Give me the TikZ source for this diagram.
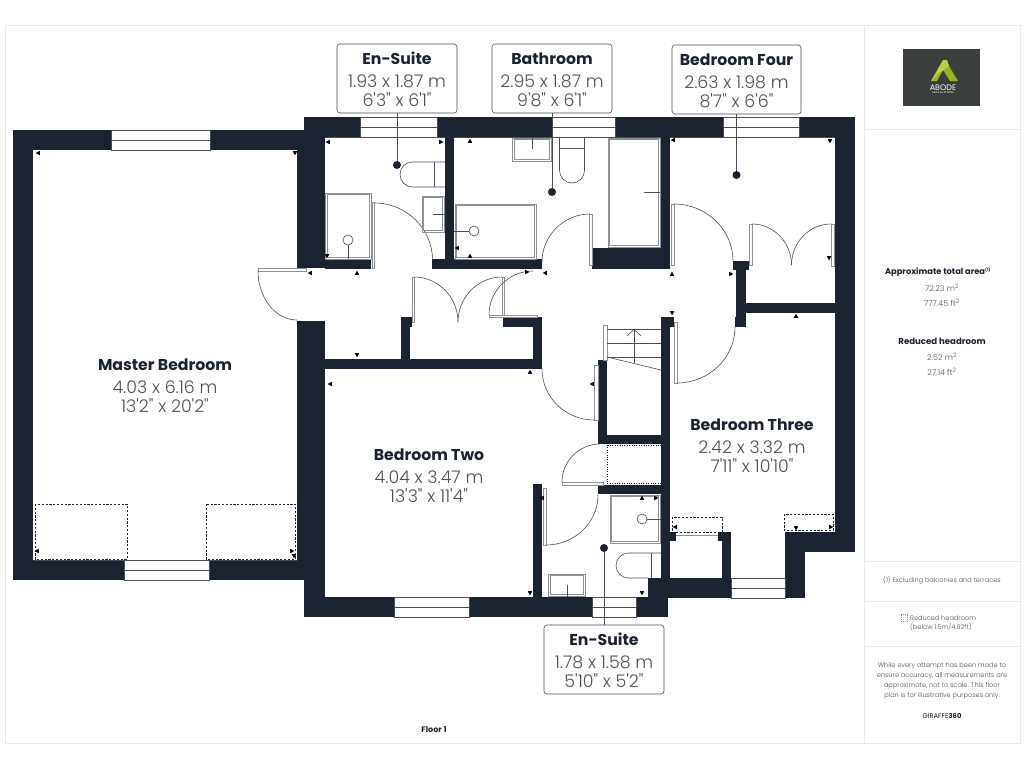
\documentclass[tikz,border=0pt]{standalone}
\usepackage{fontspec}
\newfontfamily\pop{Poppins}
\newfontfamily\popl{Poppins Light}
\definecolor{wallc}{HTML}{1B2230}
\definecolor{linec}{HTML}{4A4F55}
\definecolor{dimc}{HTML}{4E5257}
\definecolor{framec}{HTML}{E8E8EE}
\definecolor{fixc}{HTML}{8E9296}
\definecolor{logoc}{HTML}{3A3F3E}
\definecolor{limea}{HTML}{96B428}
\definecolor{limeb}{HTML}{BECD46}
\newcommand{\wl}[4]{\fill[wallc] (#1,#2) rectangle (#3,#4);}
\newcommand{\winH}[4]{\draw[fline,fill=white] (#1,#2) rectangle (#3,#4); \draw[fline] (#1,{(#2+#4)/2}) -- (#3,{(#2+#4)/2});}
\newcommand{\darc}[4]{\draw[fline] (#1,#2) .. controls ({#1+.55*(#3-#1)},#2) and (#3,{#4-.55*(#4-#2)}) .. (#3,#4);}
\newcommand{\leaf}[4]{\draw[leafs] (#1,#2) rectangle (#3,#4);}
\newcommand{\dblrect}[4]{\draw[fixs] (#1,#2) rectangle (#3,#4); \draw[fixs] ({#1+1.8},{#2+1.8}) rectangle ({#3-1.8},{#4-1.8});}
\newcommand{\mk}[3]{\fill[black,shift={(#1,#2)},rotate=#3] (-2.2,1.8) -- (2.2,1.8) -- (0,-2.4) -- cycle;}
\newcommand{\rtxt}[3]{\rule{0pt}{14.5pt}\pop\bfseries\fontsize{15.7}{19}\selectfont\textcolor{wallc}{#1}\\[4pt]\popl\mdseries\fontsize{17.4}{19}\selectfont\textcolor{dimc}{#2}\\\popl\mdseries\fontsize{17.4}{19}\selectfont\textcolor{dimc}{#3}}
\tikzset{
 fline/.style={draw=linec,line width=.6pt},
 leafs/.style={draw=fixc,fill=white,line width=.6pt},
 fixs/.style={draw=fixc,line width=.7pt},
 dots/.style={draw=wallc,line width=1pt,dash pattern=on 2.2pt off 1.6pt},
 lbox/.style={draw=linec,line width=.6pt,fill=white,rounded corners=3pt,inner sep=0pt,align=center,font=\fontsize{16}{19}\selectfont},
 rlabel/.style={inner sep=0pt,align=center,font=\fontsize{16}{19}\selectfont},
 side/.style={inner sep=0pt,align=center,text=wallc},
 pinpt/.style={circle,fill=wallc,inner sep=0pt,minimum size=8pt},
 lead/.style={draw=linec,line width=.7pt},
 fr/.style={draw=framec,line width=.8pt}
}
\begin{document}
\begin{tikzpicture}[x=1pt,y=-1pt]
\useasboundingbox (0,0) rectangle (1024,768);
\fill[white] (0,0) rectangle (1024,768);
% frame
\draw[fr] (5,25) rectangle (1020,743);
\draw[fr] (864,25) -- (864,743);
\draw[fr] (864,129) -- (1020,129);
\draw[fr] (864,561) -- (1020,561);
\draw[fr] (864,601) -- (1020,601);
\draw[fr] (864,646) -- (1020,646);
% master bedroom walls
\wl{13}{130}{33}{580}
\wl{13}{130}{111}{150}
\wl{210}{130}{304}{150}
\wl{13}{560}{124}{580}
\wl{209}{560}{304}{580}
\wl{304}{117}{325}{268}
\wl{297}{130}{325}{268}
\wl{297}{321}{325}{560}
\wl{304}{560}{325}{617}
% top wall
\wl{304}{117}{360}{137}
\wl{437}{117}{552}{137}
\wl{615}{117}{723}{137}
\wl{799}{117}{855}{137}
\wl{835}{117}{855}{552}
% bathroom block
\wl{445}{137}{454}{269}
\wl{325}{259}{371}{269}
\wl{432}{259}{542}{269}
\wl{661}{137}{670}{269}
\wl{592}{248}{670}{269}
% bedroom four closet
\wl{733}{261}{749}{270}
\wl{736}{270}{746}{327}
\wl{735}{317}{746}{327}
\wl{746}{303}{835}{313}
% corridor closet
\wl{325}{359}{542}{369}
\wl{401}{317}{410}{359}
\wl{401}{317}{412}{327}
\wl{533}{317}{542}{369}
\wl{503}{317}{542}{327}
% centre
\wl{661}{317}{670}{578}
\wl{661}{317}{674}{327}
\wl{598}{360}{607}{444}
\wl{598}{435}{661}{444}
\wl{598}{485}{661}{494}
\wl{533}{484}{542}{597}
% south walls
\wl{305}{597}{394}{617}
\wl{469}{597}{592}{617}
\wl{636}{597}{668}{617}
\wl{648}{578}{668}{617}
\wl{661}{578}{731}{598}
\wl{722}{532}{731}{578}
\wl{670}{532}{676}{541}
\wl{718}{532}{731}{541}
\wl{785}{532}{835}{552}
\wl{785}{532}{805}{598}
% windows
\winH{111}{130}{210}{150}
\winH{124}{560}{209}{580}
\winH{360}{117}{437}{137}
\winH{552}{117}{615}{137}
\winH{723}{117}{799}{137}
\winH{394}{597}{469}{617}
\winH{592}{597}{636}{617}
\winH{731}{578}{785}{598}
\draw[fixs,line width=1.4pt] (676,535.5) -- (718,535.5);
% sight lines along windows
\draw[fline] (325,137) -- (445,137);
\draw[fline] (454,137) -- (661,137);
\draw[fline] (670,137) -- (835,137);
\draw[fline] (33,560) -- (297,560);
% doors
\leaf{258}{268.5}{306}{271}\darc{297}{320}{258}{271}
\leaf{372}{202}{374.5}{268}\darc{374.5}{203}{432.5}{260}
\leaf{589.5}{214}{592}{265}\darc{590}{214}{542}{262}
\leaf{671}{204}{674}{265}\darc{674}{204}{733}{261}
\leaf{749}{224}{752}{265}\darc{752}{224}{791.5}{265}
\leaf{831}{224}{834}{266}\darc{831}{224}{791.5}{265}
\leaf{412}{277}{414}{322}\darc{414}{277}{458}{322}
\leaf{502}{277}{504}{317}\darc{502}{277}{458}{322}
\leaf{489}{315}{537}{317}\darc{533}{271}{489}{315}
\leaf{594}{365}{598}{420}\darc{594}{420}{542}{369}
\leaf{674}{322}{677}{383}\darc{677}{383}{735}{327}
\leaf{562}{482}{603}{485}\darc{600}{444}{562}{482}
\leaf{543}{488}{546}{545}\darc{546}{545}{598}{495}
% en-suite fixtures
\draw[fline] (445,162) -- (412.5,162) arc[start angle=270,end angle=90,radius=12.5] -- (445,187);
\draw[fline] (434,162) -- (434,187);
\dblrect{422}{196}{444}{232}
\draw[fline] (433,214) -- (445,214);
\dblrect{325.5}{193}{371.5}{259}
\draw[fline] (348,240) circle[radius=5];
\draw[fline] (348,245) -- (348,259);
% bathroom fixtures
\dblrect{512.5}{138}{551.5}{161}
\draw[fline] (532,137) -- (532,149);
\draw[fline] (559.5,137) -- (559.5,170.5) arc[start angle=180,end angle=0,radius=12.5] -- (584.5,137);
\draw[fline] (559.5,148) -- (584.5,148);
\dblrect{455}{204}{536}{259}
\draw[fline] (474,231) circle[radius=5];
\draw[fline] (454,231) -- (469,231);
\dblrect{608}{138}{660}{247}
\draw[fline] (644,192) -- (660,192);
% stairs
\draw[leafs] (603.5,325) rectangle (607,360);
\draw[fline] (607,329) -- (661,329);
\draw[fline] (607,343) -- (661,343);
\draw[fline] (607,357) -- (661,357);
\draw[fline] (607,357) -- (661,370);
\draw[fline] (634,363) -- (634,329.5);
\draw[fline] (627,336) -- (634,329.5) -- (641,336);
% dashed areas
\draw[dots,line width=.6pt,dash pattern=on 1pt off 1.4pt] (607,445) rectangle (661,483);
\draw[dots] (35,504) rectangle (127,559);
\draw[dots] (206,504) rectangle (295,559);
\draw[dots] (672,517) rectangle (722,532);
\draw[dots] (784,514) rectangle (833,530);
% lower en-suite
\dblrect{610}{495}{660}{543}
\draw[fline] (642,519) circle[radius=5];
\draw[fline] (647,519) -- (661,519);
\draw[fline] (648,578) -- (628.5,578) arc[start angle=90,end angle=270,radius=12.5] -- (661,553);
\draw[fline] (651,553) -- (651,578);
\dblrect{548.5}{574}{585}{596.5}
\draw[fline] (567,585) -- (567,597);
% small marks
\mk{328}{142}{90}\mk{441}{142}{270}\mk{470}{141}{0}\mk{327}{256}{180}\mk{357}{273}{0}\mk{310}{273}{90}
\mk{457}{248}{90}\mk{470}{256}{0}\mk{527}{272}{270}\mk{545}{273}{90}
\mk{673}{140}{90}\mk{830}{141}{180}\mk{672}{274}{0}\mk{731}{274}{270}\mk{829}{258}{180}
\mk{796}{316}{0}\mk{672}{313}{180}\mk{357}{355}{180}\mk{330}{384}{90}\mk{530}{372}{0}
\mk{592}{384}{90}\mk{542}{498}{90}\mk{530}{593}{180}\mk{642}{593}{180}
\mk{642}{498}{0}\mk{656}{498}{270}\mk{675}{527}{90}\mk{796}{528}{180}\mk{831}{527}{270}
\mk{37}{551}{90}\mk{292}{551}{270}\mk{294}{556}{180}\mk{295}{153}{180}\mk{38}{153}{90}
% label boxes
\node[lbox,minimum width=120pt,minimum height=69pt] (bES) at (397,78.5) {\rtxt{En-Suite}{1.93 x 1.87 m}{6'3" x 6'1"}};
\node[lbox,minimum width=120pt,minimum height=69pt] (bBA) at (552,78.5) {\rtxt{Bathroom}{2.95 x 1.87 m}{9'8" x 6'1"}};
\node[lbox,minimum width=129pt,minimum height=69pt] (bBF) at (736.5,79.5) {\rtxt{Bedroom Four}{2.63 x 1.98 m}{8'7" x 6'6"}};
\node[lbox,minimum width=120pt,minimum height=69pt] (bEL) at (604,659.5) {\rtxt{En-Suite}{1.78 x 1.58 m}{5'10" x 5'2"}};
\node[pinpt] (pES) at (397,165) {};
\node[pinpt] (pBA) at (552,192) {};
\node[pinpt] (pBF) at (736.5,175) {};
\node[pinpt] (pEL) at (604,548) {};
\draw[lead] (bES.south) -- (pES);
\draw[lead] (bBA.south) -- (pBA);
\draw[lead] (bBF.south) -- (pBF);
\draw[lead] (bEL.north) -- (pEL);
% room labels
\node[rlabel] (rMB) at (165,384.5) {\rtxt{Master Bedroom}{4.03 x 6.16 m}{13'2" x 20'2"}};
\node[rlabel] (rB2) at (429,474.5) {\rtxt{Bedroom Two}{4.04 x 3.47 m}{13'3" x 11'4"}};
\node[rlabel] (rB3) at (752,444.5) {\rtxt{Bedroom Three}{2.42 x 3.32 m}{7'11" x 10'10"}};
\node[side] (fl) at (434,730) {\pop\fontsize{8}{10}\selectfont\bfseries Floor 1};
% logo
\fill[logoc] (903,49) rectangle (980,106);
\fill[limea] (931,81) -- (945,59.5) -- (958,81) -- (950,81) -- (943,70) -- (937,81) -- cycle;
\fill[limeb] (931,81) -- (943,60) -- (947,60) -- (949,66) -- (938,74) -- cycle;
\node[side,text=white] (lg1) at (943,87.5) {\pop\fontsize{8}{9}\selectfont ABODE};
\node[side,text=white] (lg2) at (943,93) {\pop\fontsize{2.6}{3}\selectfont SALES \& LETTINGS};
% sidebar text
\node[side] (s1) at (938,272) {\pop\fontsize{8.3}{10}\selectfont\bfseries Approximate total area\textsuperscript{\fontsize{4}{4}\selectfont (1)}};
\node[side,text=dimc] (s2) at (942,288) {\popl\fontsize{8}{10}\selectfont 72.23 m\textsuperscript{2}};
\node[side,text=dimc] (s3) at (942,303) {\popl\fontsize{8}{10}\selectfont 777.45 ft\textsuperscript{2}};
\node[side] (s4) at (942,341) {\pop\fontsize{8.6}{10}\selectfont\bfseries Reduced headroom};
\node[side,text=dimc] (s5) at (942,357) {\popl\fontsize{8}{10}\selectfont 2.52 m\textsuperscript{2}};
\node[side,text=dimc] (s6) at (942,372) {\popl\fontsize{8}{10}\selectfont 27.14 ft\textsuperscript{2}};
\node[side,text=dimc] (s7) at (942,580) {\popl\fontsize{6.6}{8}\selectfont (1) Excluding balconies and terraces};
\draw[draw=fixc,line width=.5pt,dash pattern=on 1pt off 1pt] (901,614.5) rectangle (907,621);
\node[side,text=dimc,anchor=west] (s8) at (910,618) {\popl\fontsize{6.6}{8}\selectfont Reduced headroom};
\node[side,text=dimc,anchor=west] (s9) at (910,627.5) {\popl\fontsize{6.6}{8}\selectfont (below 1.5m/4.92ft)};
\node[side,text=dimc,font=\popl\fontsize{6.6}{10.2}\selectfont] (s10) at (942,681) {While every attempt has been made to\\ensure accuracy, all measurements are\\approximate, not to scale. This floor\\plan is for illustrative purposes only.};
\node[side] (s11) at (942,716) {\pop\fontsize{6.8}{8}\selectfont GIRAFFE\textbf{360}};
\end{tikzpicture}
\end{document}
